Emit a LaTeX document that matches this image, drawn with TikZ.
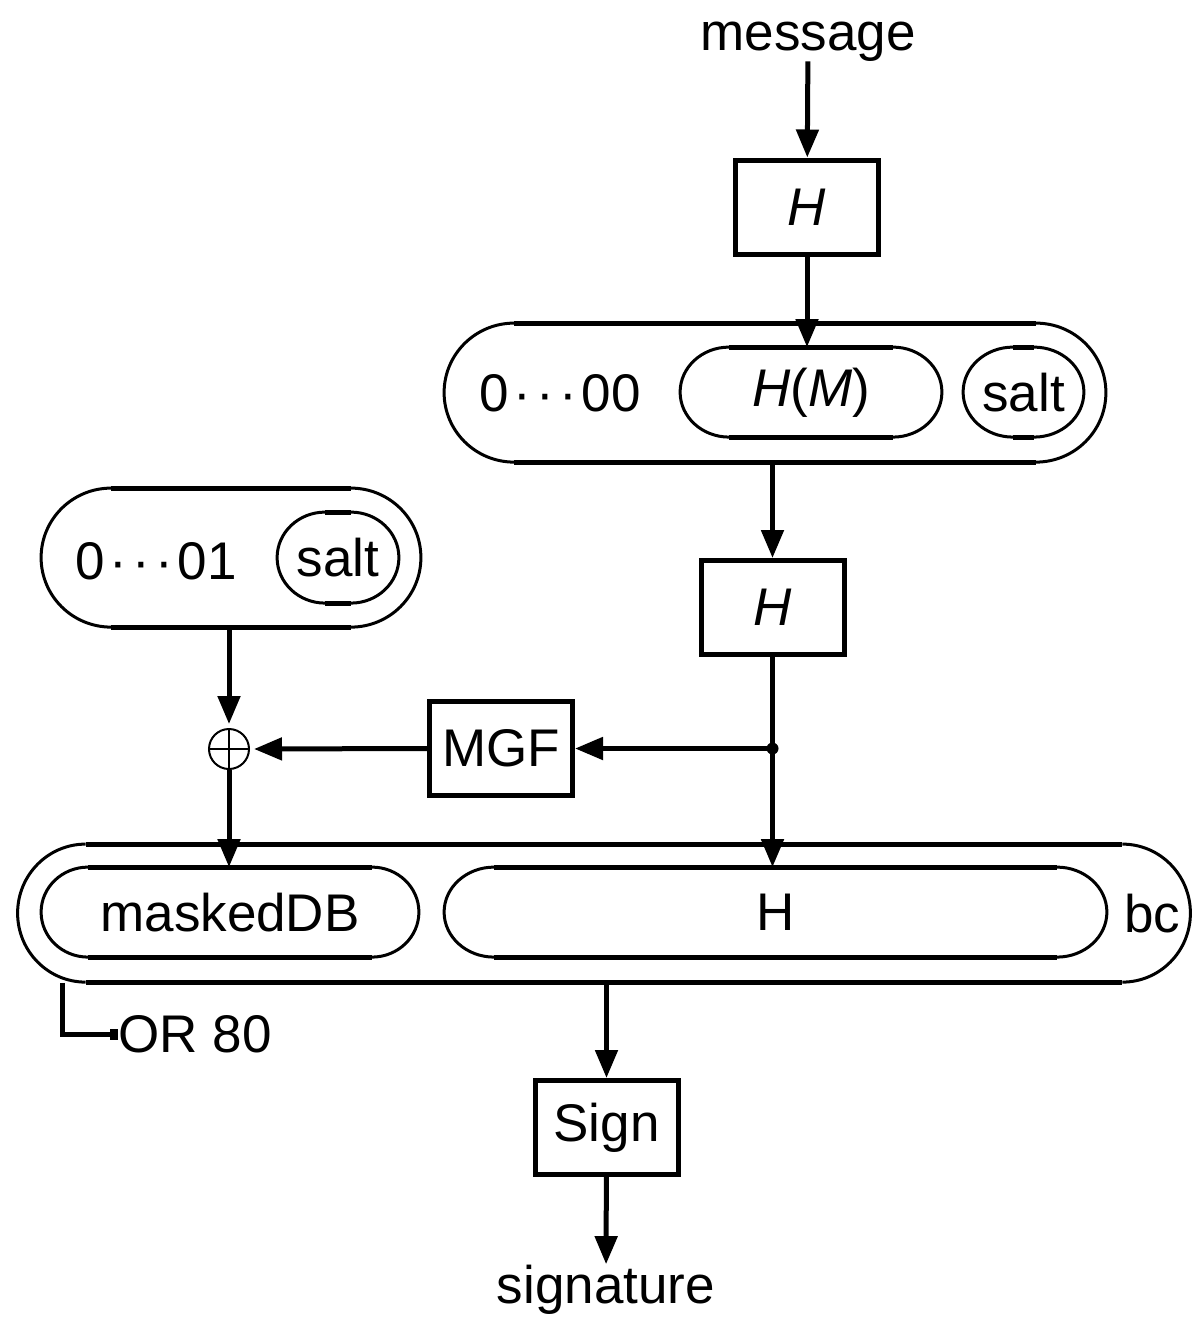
\documentclass[tikz,border=0pt]{standalone}
\usepackage{fontspec}
\setmainfont{Liberation Sans}
\usetikzlibrary{arrows.meta,calc}

% pill outline: straight sides heavy, rounded ends light
% #1 node name, #2 end x-radius, #3 end y-radius (picture units)
\newcommand\pilloutline[3]{%
  \draw[pillside] ($(#1.north west)+(#2,0)$) -- ($(#1.north east)+(-#2,0)$)
                  ($(#1.south west)+(#2,0)$) -- ($(#1.south east)+(-#2,0)$);
  \draw[pillend] ($(#1.north west)+(#2,0)$)
     arc[start angle=90,end angle=270,x radius=#2*0.5pt,y radius=#3*0.5pt];
  \draw[pillend] ($(#1.north east)+(-#2,0)$)
     arc[start angle=90,end angle=-90,x radius=#2*0.5pt,y radius=#3*0.5pt];
}

\begin{document}
\begin{tikzpicture}[x=0.5pt,y=-0.5pt,
  every node/.style={font=\fontsize{26.5}{32}\selectfont, inner sep=0pt},
  blockbox/.style={draw, line width=2.5pt, minimum width=71.5pt, minimum height=47pt},
  pill/.style={minimum width=#1},
  pillside/.style={line width=2.5pt},
  pillend/.style={line width=1.5pt},
  flow/.style={line width=2.5pt, -{Triangle[length=14pt,width=11pt]}},
]
\useasboundingbox (0,0) rectangle (1191,1323);

% ---- input and first hash ----
\node[anchor=base] (msg) at (808,50) {message};
\node[blockbox] (h1) at (807,207) {\textit{H}};

% ---- M' = padding || H(M) || salt ----
\node[pill=330.5pt, minimum height=69.5pt] (top) at (775,393) {};
\node[pill=130.5pt, minimum height=45pt] (hm) at (811,392.5) {\textit{H}(\textit{M})};
\node[pill=60pt, minimum height=45pt] (salta) at (1023.5,392.5) {salt};
\node (pad0) at (560,393) {0\kern2.5pt·\kern2.5pt·\kern2.5pt·\kern2.5pt00};
\pilloutline{top}{70}{69.5}
\pilloutline{hm}{49}{45}
\pilloutline{salta}{50}{45}

% ---- second hash ----
\node[blockbox] (h2) at (772.5,607.5) {\textit{H}};

% ---- DB = padding || salt ----
\node[pill=189.5pt, minimum height=69.5pt] (left) at (231,558) {};
\node[pill=60.5pt, minimum height=45.5pt] (saltb) at (338,558) {salt};
\node (pad1) at (156,561) {0\kern2.5pt·\kern2.5pt·\kern2.5pt·\kern2.5pt01};
\pilloutline{left}{70}{69.5}
\pilloutline{saltb}{48}{45.5}

% ---- mask generation and xor ----
\node[blockbox] (mgf) at (501,748.5) {MGF};
\node[circle, draw, line width=1pt, minimum size=20pt] (xor) at (229,749) {};
\draw[line width=1pt] (xor.north) -- (xor.south) (xor.west) -- (xor.east);

% ---- encoded message EM ----
\node[pill=586pt, minimum height=69pt] (big) at (604,913.5) {};
\node[pill=188.5pt, minimum height=45pt] (mdb) at (230,912.5) {maskedDB};
\node[pill=331pt, minimum height=45pt] (hbig) at (775.5,912.5) {H};
\node (bc) at (1152,914) {bc};
\pilloutline{big}{68}{69}
\pilloutline{mdb}{47}{45}
\pilloutline{hbig}{50}{45}

\node[anchor=west] (or80) at (118,1034) {OR 80};
\coordinate (orfoot) at ($(big.south west)+(45,0)$);

% ---- signing ----
\node[blockbox] (sign) at (606.5,1127.5) {Sign};
\node[anchor=base] (sig) at (606,1303) {signature};

% ---- connectors ----
\draw[flow] (msg) -- (h1);
\draw[flow] (h1.south) -- (h1.south |- hm.north);
\draw[flow] (h2.north |- top.south) -- (h2.north);
\coordinate (j) at (h2.south |- mgf.east);
\draw[flow] (h2.south) -- (h2.south |- hbig.north);
\fill (j) circle[radius=3pt];
\draw[flow] (j) -- (mgf.east);
\draw[flow, shorten >=2pt] (mgf.west) -- (xor.east);
\draw[flow, shorten >=2pt] (xor.north |- left.south) -- (xor.north);
\draw[flow] (xor.south) -- (xor.south |- mdb.north);
\draw[line width=2.5pt, -{Rectangle[length=4pt,width=5.5pt]}] (orfoot) |- (or80.west);
\draw[flow] (sign.north |- big.south) -- (sign.north);
\draw[flow] (sign) -- (sig);
\end{tikzpicture}
\end{document}
